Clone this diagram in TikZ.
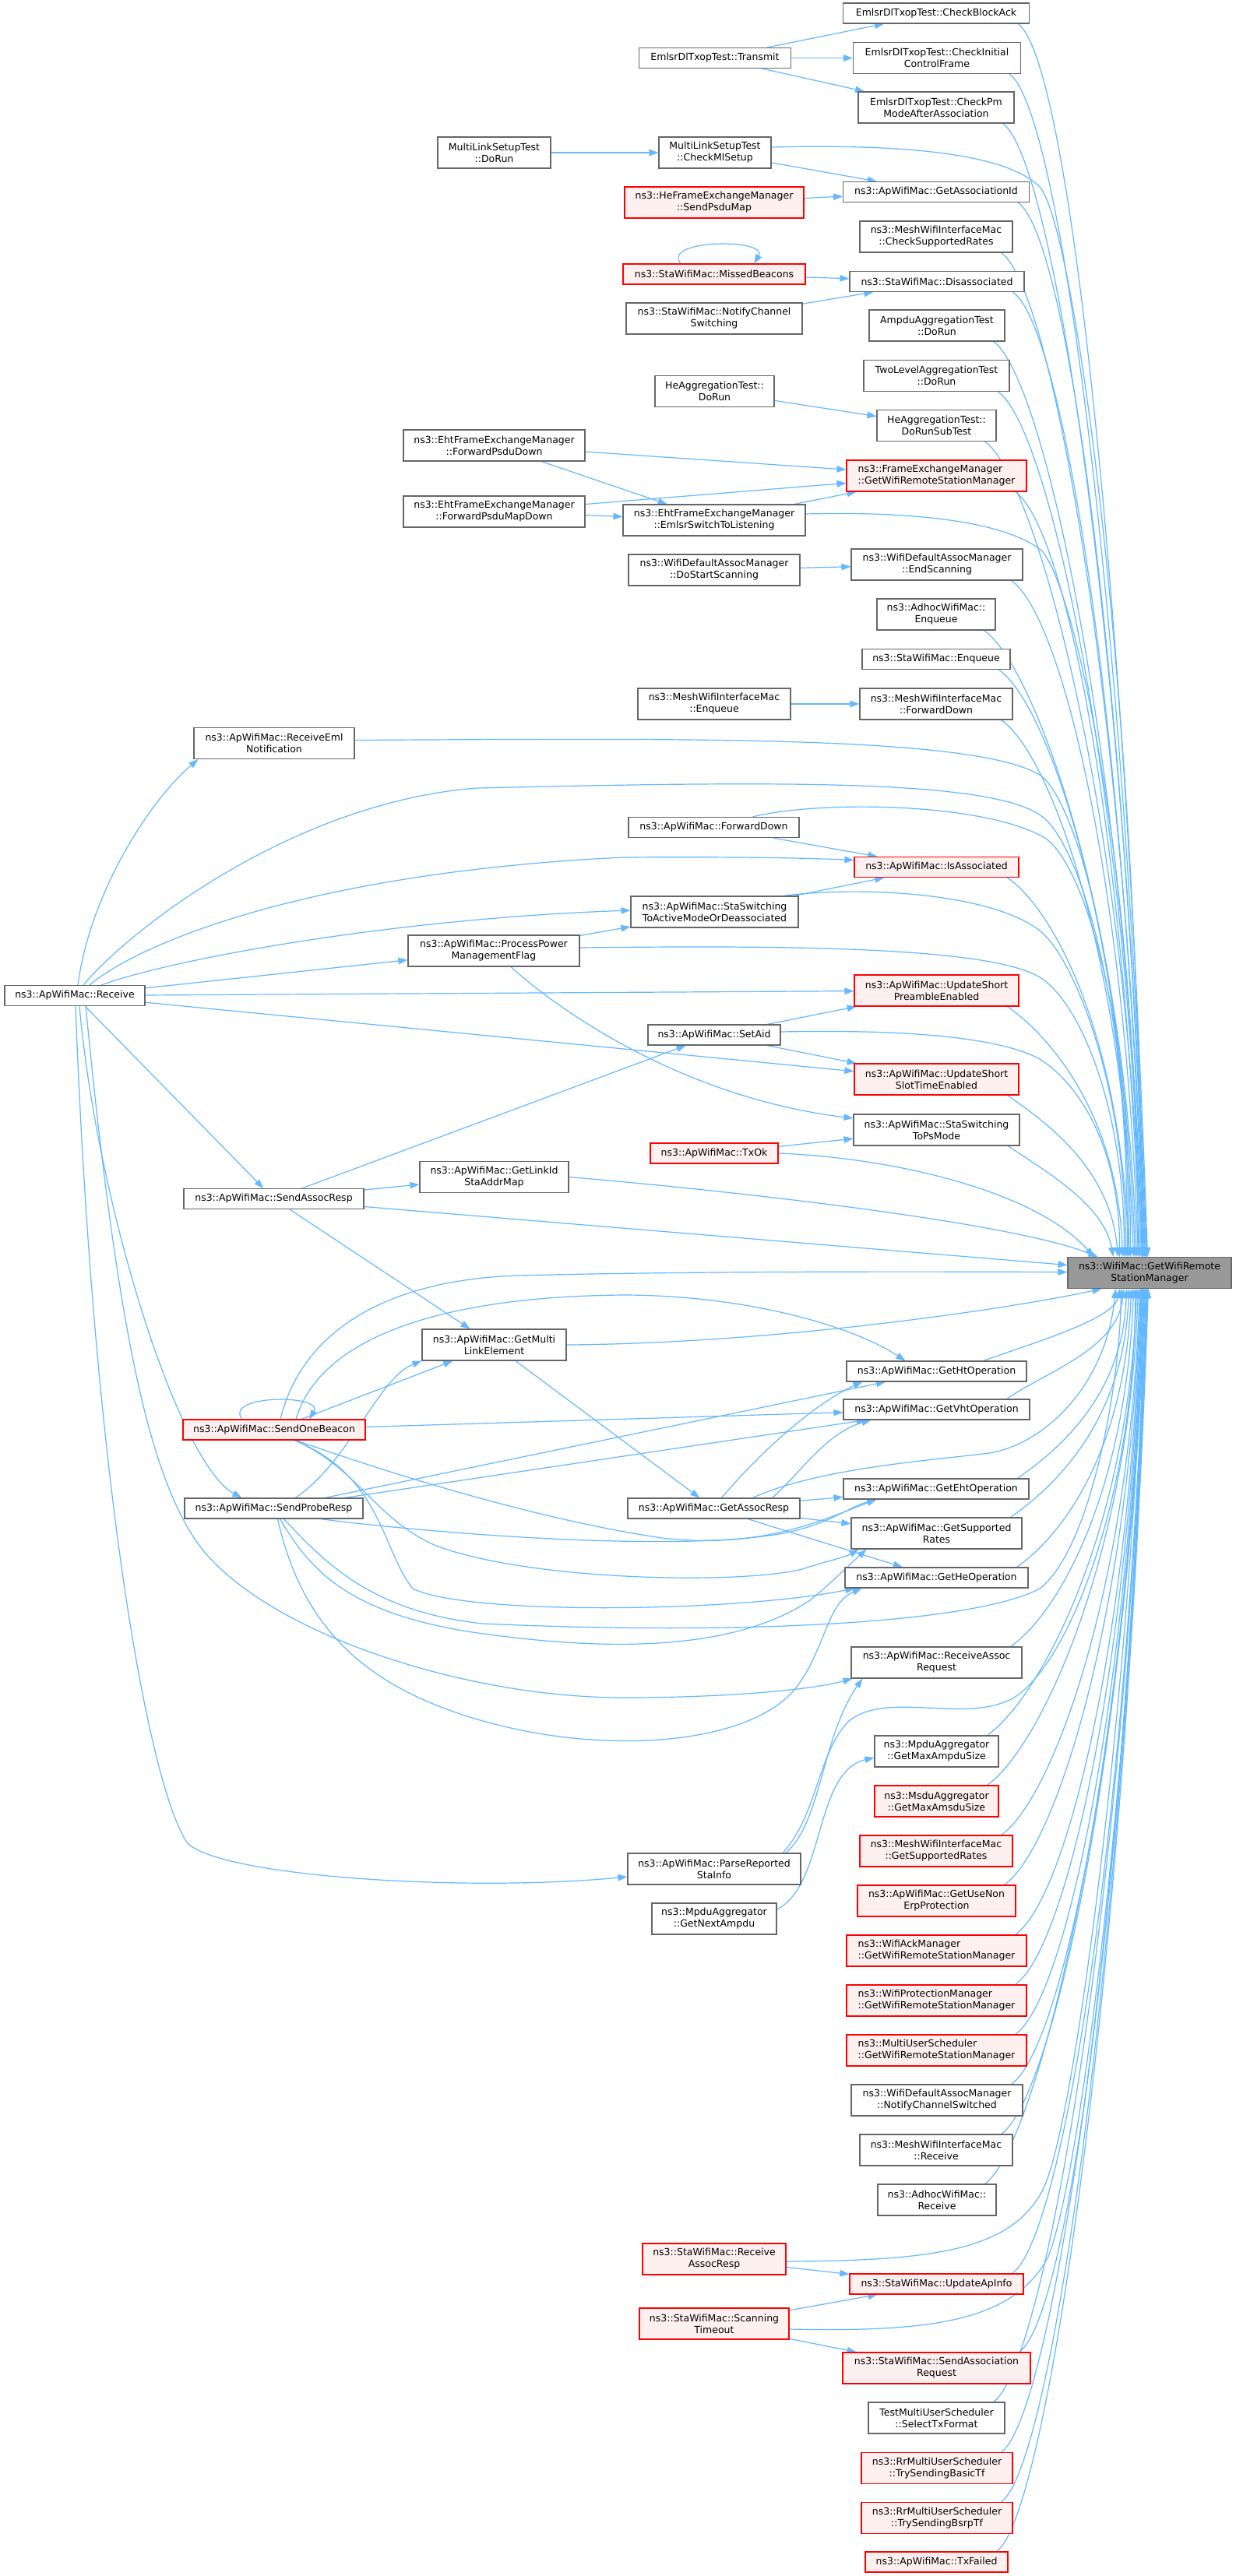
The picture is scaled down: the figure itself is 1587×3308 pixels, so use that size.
\documentclass[tikz,border=0pt]{standalone}
\usepackage{fontspec}
\newfontfamily\dv{DejaVu Sans}
\usetikzlibrary{arrows.meta}
\pgfdeclarelayer{bg}
\pgfdeclarelayer{edges}
\pgfsetlayers{bg,edges,main}
\definecolor{eb}{HTML}{63B8FF}
\definecolor{gb}{HTML}{666666}
\definecolor{rf}{HTML}{FFF0F0}
\definecolor{tf}{HTML}{999999}
\tikzset{
 nb/.style={draw=gb, fill=white, line width=1.1pt, inner sep=0pt, align=center, text=black,
   font=\dv\fontsize{12.5pt}{15pt}\selectfont, minimum height=26pt},
 n1/.style={nb},
 n2/.style={nb, minimum height=40pt},
 r1/.style={nb, draw=red, fill=rf},
 r2/.style={r1, minimum height=40pt},
 rl/.style={r2, align=left},
 ed/.style={draw=eb, line width=1.2pt, -{Triangle[length=12pt,width=8.5pt]}},
}
\begin{document}
\begin{tikzpicture}[x=1pt,y=1pt]
\useasboundingbox (0,0) rectangle (1587,-3308);
\begin{pgfonlayer}{bg}
\fill[white] (0,0) rectangle (1587,-3308);
\end{pgfonlayer}

\node[n1,minimum width=239pt] (cba) at (1202,-17) {EmlsrDlTxopTest::CheckBlockAck};
\node[n1,minimum width=195pt] (tx) at (918,-74.5) {EmlsrDlTxopTest::Transmit};
\node[n2,minimum width=215pt] (cicf) at (1203,-74.5) {EmlsrDlTxopTest::CheckInitial\\ControlFrame};
\node[n2,minimum width=200pt] (cpm) at (1202,-138) {EmlsrDlTxopTest::CheckPm\\ModeAfterAssociation};
\node[n2,minimum width=145pt] (mldr) at (634.5,-196) {MultiLinkSetupTest\\::DoRun};
\node[n2,minimum width=144pt] (cmls) at (918,-196) {MultiLinkSetupTest\\::CheckMlSetup};
\node[n1,minimum width=239pt] (gaid) at (1202,-246.5) {ns3::ApWifiMac::GetAssociationId};
\node[r2,minimum width=230pt] (spm) at (917,-260) {ns3::HeFrameExchangeManager\\::SendPsduMap};
\node[n2,minimum width=196pt] (csr) at (1202,-304) {ns3::MeshWifiInterfaceMac\\::CheckSupportedRates};
\node[r1,minimum width=234pt] (mb) at (917,-352) {ns3::StaWifiMac::MissedBeacons};
\node[n1,minimum width=224pt] (dis) at (1203,-361.5) {ns3::StaWifiMac::Disassociated};
\node[n2,minimum width=226pt] (ncs) at (917,-409) {ns3::StaWifiMac::NotifyChannel\\Switching};
\node[n2,minimum width=174pt] (ampdu) at (1203,-418) {AmpduAggregationTest\\::DoRun};
\node[n2,minimum width=187pt] (twol) at (1202.5,-482.5) {TwoLevelAggregationTest\\::DoRun};
\node[n2,minimum width=153pt] (hedr) at (917.5,-502.5) {HeAggregationTest::\\DoRun};
\node[n2,minimum width=153pt] (hest) at (1202.5,-546.5) {HeAggregationTest::\\DoRunSubTest};
\node[n2,minimum width=233pt] (fpd) at (634.5,-572) {ns3::EhtFrameExchangeManager\\::ForwardPsduDown};
\node[rl,minimum width=231pt] (fem) at (1202.5,-611) {ns3::FrameExchangeManager\\::GetWifiRemoteStationManager};
\node[n2,minimum width=233pt] (fpmd) at (634.5,-657) {ns3::EhtFrameExchangeManager\\::ForwardPsduMapDown};
\node[n2,minimum width=234pt] (emlsr) at (917,-668) {ns3::EhtFrameExchangeManager\\::EmlsrSwitchToListening};
\node[n2,minimum width=220pt] (dss) at (917,-732) {ns3::WifiDefaultAssocManager\\::DoStartScanning};
\node[n2,minimum width=220pt] (es) at (1203,-725) {ns3::WifiDefaultAssocManager\\::EndScanning};
\node[n2,minimum width=152pt] (adenq) at (1202,-789) {ns3::AdhocWifiMac::\\Enqueue};
\node[n1,minimum width=190pt] (staenq) at (1202,-846.5) {ns3::StaWifiMac::Enqueue};
\node[n2,minimum width=196pt] (menq) at (917,-904) {ns3::MeshWifiInterfaceMac\\::Enqueue};
\node[n2,minimum width=196pt] (mfd) at (1202,-904) {ns3::MeshWifiInterfaceMac\\::ForwardDown};
\node[n2,minimum width=206pt] (reml) at (352,-954.5) {ns3::ApWifiMac::ReceiveEml\\Notification};
\node[n1,minimum width=219pt] (apfd) at (916.5,-1062.5) {ns3::ApWifiMac::ForwardDown};
\node[r1,minimum width=211pt] (isa) at (1202.5,-1113.5) {ns3::ApWifiMac::IsAssociated};
\node[n2,minimum width=215pt] (ssam) at (917.5,-1171) {ns3::ApWifiMac::StaSwitching\\ToActiveModeOrDeassociated};
\node[n2,minimum width=220pt] (ppm) at (634,-1221) {ns3::ApWifiMac::ProcessPower\\ManagementFlag};
\node[r2,minimum width=211pt] (usp) at (1202.5,-1272) {ns3::ApWifiMac::UpdateShort\\PreambleEnabled};
\node[n1,minimum width=180pt] (rcv) at (96,-1278.5) {ns3::ApWifiMac::Receive};
\node[n1,minimum width=170pt] (said) at (917,-1329) {ns3::ApWifiMac::SetAid};
\node[r2,minimum width=211pt] (usst) at (1202.5,-1386) {ns3::ApWifiMac::UpdateShort\\SlotTimeEnabled};
\node[n2,minimum width=213pt] (sps) at (1202.5,-1451) {ns3::ApWifiMac::StaSwitching\\ToPsMode};
\node[r1,minimum width=164pt] (txok) at (917,-1481) {ns3::ApWifiMac::TxOk};
\node[n2,minimum width=191pt] (glsm) at (634.5,-1511.5) {ns3::ApWifiMac::GetLinkId\\StaAddrMap};
\node[n1,minimum width=231pt] (sar) at (351.5,-1539.5) {ns3::ApWifiMac::SendAssocResp};
\node[n2,minimum width=210pt,fill=tf] (tgt) at (1476,-1634.5) {ns3::WifiMac::GetWifiRemote\\StationManager};
\node[n2,minimum width=185pt] (gmle) at (634.5,-1727) {ns3::ApWifiMac::GetMulti\\LinkElement};
\node[n1,minimum width=231pt] (ght) at (1202.5,-1761) {ns3::ApWifiMac::GetHtOperation};
\node[n1,minimum width=239pt] (gvht) at (1202.5,-1810) {ns3::ApWifiMac::GetVhtOperation};
\node[r1,minimum width=234pt] (sob) at (352,-1836) {ns3::ApWifiMac::SendOneBeacon};
\node[n1,minimum width=238pt] (geht) at (1202,-1912) {ns3::ApWifiMac::GetEhtOperation};
\node[n1,minimum width=221pt] (gar) at (916.5,-1937) {ns3::ApWifiMac::GetAssocResp};
\node[n1,minimum width=229pt] (spr) at (351.5,-1937) {ns3::ApWifiMac::SendProbeResp};
\node[n2,minimum width=219pt] (gsr) at (1202.5,-1969) {ns3::ApWifiMac::GetSupported\\Rates};
\node[n1,minimum width=235pt] (ghe) at (1202.5,-2026) {ns3::ApWifiMac::GetHeOperation};
\node[n2,minimum width=219pt] (rar) at (1202.5,-2135) {ns3::ApWifiMac::ReceiveAssoc\\Request};
\node[n2,minimum width=159pt] (gmas) at (1202.5,-2249) {ns3::MpduAggregator\\::GetMaxAmpduSize};
\node[r2,minimum width=159pt] (gmms) at (1202.5,-2313) {ns3::MsduAggregator\\::GetMaxAmsduSize};
\node[r2,minimum width=196pt] (mgsr) at (1202,-2377) {ns3::MeshWifiInterfaceMac\\::GetSupportedRates};
\node[n2,minimum width=222pt] (prs) at (917,-2400) {ns3::ApWifiMac::ParseReported\\StaInfo};
\node[r2,minimum width=203pt] (gune) at (1202.5,-2441) {ns3::ApWifiMac::GetUseNon\\ErpProtection};
\node[n2,minimum width=160pt] (gna) at (917,-2464) {ns3::MpduAggregator\\::GetNextAmpdu};
\node[rl,minimum width=231pt] (wack) at (1202.5,-2505) {ns3::WifiAckManager\\::GetWifiRemoteStationManager};
\node[rl,minimum width=231pt] (wprot) at (1202.5,-2569) {ns3::WifiProtectionManager\\::GetWifiRemoteStationManager};
\node[rl,minimum width=231pt] (mus) at (1202.5,-2633) {ns3::MultiUserScheduler\\::GetWifiRemoteStationManager};
\node[n2,minimum width=220pt] (ncsd) at (1203,-2697) {ns3::WifiDefaultAssocManager\\::NotifyChannelSwitched};
\node[n2,minimum width=196pt] (mrcv) at (1202,-2761) {ns3::MeshWifiInterfaceMac\\::Receive};
\node[n2,minimum width=152pt] (adrcv) at (1203,-2825) {ns3::AdhocWifiMac::\\Receive};
\node[r2,minimum width=184pt] (rasr) at (917,-2901) {ns3::StaWifiMac::Receive\\AssocResp};
\node[r1,minimum width=223pt] (uai) at (1202.5,-2933) {ns3::StaWifiMac::UpdateApInfo};
\node[r2,minimum width=192pt] (sto) at (917,-2984) {ns3::StaWifiMac::Scanning\\Timeout};
\node[r2,minimum width=241pt] (sareq) at (1202.5,-3041) {ns3::StaWifiMac::SendAssociation\\Request};
\node[n2,minimum width=175pt] (tmus) at (1202.5,-3105) {TestMultiUserScheduler\\::SelectTxFormat};
\node[r2,minimum width=194pt] (tbtf) at (1203,-3169.5) {ns3::RrMultiUserScheduler\\::TrySendingBasicTf};
\node[r2,minimum width=194pt] (tbsr) at (1203,-3233.5) {ns3::RrMultiUserScheduler\\::TrySendingBsrpTf};
\node[r1,minimum width=183pt] (txf) at (1202.5,-3290) {ns3::ApWifiMac::TxFailed};

\begin{pgfonlayer}{edges}
% straight edges
\draw[ed] (tx) -- (cba);
\draw[ed] (tx) -- (cicf);
\draw[ed] (tx) -- (cpm);
\draw[ed] (mldr) -- (cmls);
\draw[ed] (cmls) -- (gaid);
\draw[ed] (spm) -- (gaid);
\draw[ed] (mb) -- (dis);
\draw[ed] (ncs) -- (dis);
\draw[ed] (hedr) -- (hest);
\draw[ed] (fpd) -- (fem);
\draw[ed] (fpd) -- (emlsr);
\draw[ed] (fpmd) -- (fem);
\draw[ed] (fpmd) -- (emlsr);
\draw[ed] (emlsr) -- (fem);
\draw[ed] (dss) -- (es);
\draw[ed] (menq) -- (mfd);
\draw[ed] (apfd) -- (isa);
\draw[ed] (ssam) -- (isa);
\draw[ed] (rcv) -- (ppm);
\draw[ed] (rcv) -- (usp);
\draw[ed] (rcv) -- (usst);
\draw[ed] (ppm) -- (ssam);
\draw[ed] (said) -- (usp);
\draw[ed] (said) -- (usst);
\draw[ed] (sar) -- (said);
\draw[ed] (txok) -- (sps);
\draw[ed] (sar) -- (glsm);
\draw[ed] (rcv) -- (sar);
\draw[ed] (sar) -- (gmle);
\draw[ed] (gmle) -- (gar);
\draw[ed] (sob) -- (gmle);
\draw[ed] (sob) -- (gvht);
\draw[ed] (spr) -- (ght);
\draw[ed] (spr) -- (gvht);
\draw[ed] (gar) -- (geht);
\draw[ed] (gar) -- (gsr);
\draw[ed] (gar) -- (ghe);
\draw[ed] (rasr) -- (uai);
\draw[ed] (sto) -- (uai);
\draw[ed] (sto) -- (sareq);
% self loops
\draw[ed] ([xshift=-43pt]mb.north) .. controls +(-25,32) and +(20,32) .. ([xshift=51pt]mb.north);
\draw[ed] ([xshift=-41pt]sob.north) .. controls +(-25,32) and +(20,32) .. ([xshift=45pt]sob.north);
% Receive curves
\draw[ed] ([xshift=4pt]rcv.north) .. controls (115,-1150) and (190,-1030) .. ([xshift=6pt]reml.south west);
\draw[ed] ([xshift=11pt]rcv.north) .. controls (170,-1190) and (380,-1030) .. (612,-1012) .. controls (1000,-1003) and (1280,-1000) .. (1340,-1050) .. controls (1390,-1092) and (1450,-1300) .. ([xshift=79pt]tgt.north west);
\draw[ed] ([xshift=19pt]rcv.north) .. controls (180,-1210) and (400,-1120) .. (800,-1101) .. controls (950,-1100) and (1040,-1102) .. ([yshift=9pt]isa.west);
\draw[ed] ([xshift=34pt]rcv.north) .. controls (220,-1232) and (500,-1180) .. ([yshift=2pt]ssam.west);
\draw[ed] ([xshift=6pt]rcv.south) .. controls (125,-1550) and (230,-1880) .. ([xshift=74pt]spr.north west);
\draw[ed] ([xshift=14pt]rcv.south) .. controls (150,-1700) and (190,-1900) .. (260,-1990) .. controls (350,-2100) and (600,-2180) .. (800,-2180) .. controls (950,-2180) and (1050,-2168) .. ([xshift=2pt]rar.south west);
\draw[ed] ([xshift=1pt]rcv.south) .. controls (120,-1900) and (190,-2290) .. (240,-2366) .. controls (280,-2410) and (600,-2430) .. ([yshift=-10pt]prs.west);
% left nodes to target (from above)
\draw[ed] ([yshift=4pt]reml.east) .. controls (900,-948) and (1250,-945) .. (1335,-995) .. controls (1380,-1025) and (1448,-1250) .. ([xshift=77pt]tgt.north west);
\draw[ed] ([yshift=7pt]cmls.east) .. controls (1150,-185) and (1290,-195) .. (1335,-240) .. controls (1380,-290) and (1462,-900) .. ([xshift=96pt]tgt.north west);
\draw[ed] ([yshift=8pt]emlsr.east) .. controls (1150,-657) and (1280,-665) .. (1335,-705) .. controls (1375,-735) and (1460,-1100) .. ([xshift=91pt]tgt.north west);
\draw[ed] ([xshift=50pt]apfd.north) .. controls (1050,-1028) and (1260,-1030) .. (1340,-1075) .. controls (1390,-1105) and (1452,-1300) .. ([xshift=81pt]tgt.north west);
\draw[ed] ([xshift=88pt]ssam.north) .. controls (1100,-1138) and (1270,-1145) .. (1335,-1195) .. controls (1380,-1230) and (1446,-1400) .. ([xshift=75pt]tgt.north west);
\draw[ed] ([yshift=4pt]ppm.east) .. controls (1000,-1214) and (1270,-1215) .. (1335,-1255) .. controls (1385,-1285) and (1444,-1420) .. ([xshift=73pt]tgt.north west);
\draw[ed] ([xshift=22pt]ppm.south) .. controls (720,-1300) and (880,-1410) .. ([yshift=15pt]sps.west);
\draw[ed] ([yshift=4pt]said.east) .. controls (1150,-1322) and (1280,-1330) .. (1335,-1360) .. controls (1390,-1395) and (1438,-1480) .. ([xshift=67pt]tgt.north west);
\draw[ed] (txok.east) .. controls (1150,-1487) and (1330,-1530) .. ([xshift=34pt]tgt.north west);
\draw[ed] (glsm.east) .. controls (950,-1530) and (1300,-1570) .. ([xshift=39pt]tgt.north west);
\draw[ed] ([yshift=-10pt]sar.east) -- ([yshift=10pt]tgt.west);
% SendOneBeacon
\draw[ed] ([xshift=8pt]sob.north) .. controls (385,-1720) and (480,-1645) .. (663,-1638) .. controls (900,-1632) and (1200,-1633) .. ([yshift=1pt]tgt.west);
\draw[ed] ([xshift=28pt]sob.north) .. controls (410,-1720) and (560,-1665) .. (800,-1663) .. controls (950,-1663) and (1090,-1700) .. ([xshift=-40pt]ght.north);
\draw[ed] ([xshift=28pt]sob.south) .. controls (480,-1885) and (680,-1950) .. (850,-1975) .. controls (980,-1990) and (1060,-1950) .. ([xshift=43pt]geht.south west);
\draw[ed] ([xshift=26pt]sob.south) .. controls (460,-1885) and (480,-1950) .. (560,-1985) .. controls (680,-2030) and (950,-2035) .. (1030,-2015) .. controls (1060,-2005) and (1085,-2000) .. ([xshift=10pt]gsr.south west);
\draw[ed] ([xshift=26pt]sob.south) .. controls (490,-1895) and (490,-1990) .. (530,-2040) .. controls (600,-2075) and (950,-2070) .. ([xshift=13pt]ghe.south west);
% SendProbeResp
\draw[ed] ([xshift=28pt]spr.north) .. controls (450,-1875) and (485,-1770) .. (gmle.south west);
\draw[ed] ([xshift=60pt]spr.south) .. controls (520,-1965) and (850,-1995) .. (1000,-1970) .. controls (1060,-1960) and (1090,-1935) .. ([xshift=43pt]geht.south west);
\draw[ed] ([xshift=8pt]spr.south) .. controls (400,-2020) and (450,-2070) .. (600,-2095) .. controls (800,-2125) and (950,-2115) .. (1040,-2055) .. controls (1065,-2035) and (1090,-2010) .. ([xshift=20pt]gsr.south west);
\draw[ed] ([xshift=13pt]spr.south) .. controls (420,-2010) and (480,-2070) .. (620,-2085) .. controls (950,-2100) and (1250,-2085) .. (1335,-2040) .. controls (1400,-1990) and (1438,-1780) .. ([xshift=69pt]tgt.south west);
\draw[ed] ([xshift=5pt]spr.south) .. controls (390,-2100) and (480,-2170) .. (620,-2210) .. controls (780,-2255) and (960,-2240) .. (1020,-2170) .. controls (1060,-2120) and (1060,-2060) .. ([xshift=22pt]ghe.south west);
% GetAssocResp
\draw[ed] ([xshift=10pt]gar.north) .. controls (980,-1860) and (1050,-1800) .. ([xshift=21pt]ght.south west);
\draw[ed] ([xshift=75pt]gar.north) .. controls (1025,-1895) and (1060,-1840) .. ([xshift=36pt]gvht.south west);
\draw[ed] ([xshift=50pt]gar.north) .. controls (1050,-1885) and (1200,-1875) .. (1270,-1866) .. controls (1340,-1855) and (1420,-1780) .. ([xshift=62pt]tgt.south west);
\draw[ed] (gmle.east) .. controls (1000,-1725) and (1300,-1680) .. ([xshift=44pt]tgt.south west);
% ParseReportedStaInfo, GetNextAmpdu
\draw[ed] ([xshift=92pt]prs.north) .. controls (1055,-2340) and (1055,-2230) .. ([xshift=15pt]rar.south west);
\draw[ed] ([xshift=88pt]prs.north) .. controls (1050,-2330) and (1050,-2250) .. (1090,-2210) .. controls (1140,-2170) and (1240,-2215) .. (1302,-2180) .. controls (1380,-2130) and (1458,-1900) .. ([xshift=87pt]tgt.south west);
\draw[ed] ([yshift=12pt]gna.east) .. controls (1060,-2420) and (1045,-2275) .. ([yshift=-8pt]gmas.west);
% StaWifiMac bottom
\draw[ed] ([yshift=-3pt]rasr.east) .. controls (1200,-2903) and (1300,-2890) .. (1340,-2810) .. controls (1390,-2700) and (1466,-2000) .. ([xshift=95pt]tgt.south west);
\draw[ed] ([yshift=-7pt]sto.east) .. controls (1200,-2995) and (1300,-2980) .. (1345,-2900) .. controls (1395,-2780) and (1468,-2100) .. ([xshift=97pt]tgt.south west);
% right column above target
\draw[ed] ([xshift=-15pt]cba.south east) .. controls +(65.5,-45.9) and +(-30.4,869.1) .. ([xshift=103pt]tgt.north west);
\draw[ed] ([xshift=-15pt]cicf.south east) .. controls +(65.5,-45.9) and +(-29.2,834.5) .. ([xshift=102pt]tgt.north west);
\draw[ed] ([xshift=-15pt]cpm.south east) .. controls +(65.5,-45.9) and +(-28,799.5) .. ([xshift=101pt]tgt.north west);
\draw[ed] ([xshift=-15pt]gaid.south east) .. controls +(65.5,-45.9) and +(-26,744.5) .. ([xshift=100pt]tgt.north west);
\draw[ed] ([xshift=-15pt]csr.south east) .. controls +(65.5,-45.9) and +(-24.8,709.6) .. ([xshift=99pt]tgt.north west);
\draw[ed] ([xshift=-15pt]dis.south east) .. controls +(65.5,-45.9) and +(-23.7,679.6) .. ([xshift=98pt]tgt.north west);
\draw[ed] ([xshift=-15pt]ampdu.south east) .. controls +(65.5,-45.9) and +(-22.5,644.6) .. ([xshift=97pt]tgt.north west);
\draw[ed] ([xshift=-15pt]twol.south east) .. controls +(65.5,-45.9) and +(-21.3,609.6) .. ([xshift=96pt]tgt.north west);
\draw[ed] ([xshift=-15pt]hest.south east) .. controls +(65.5,-45.9) and +(-20.1,574.6) .. ([xshift=95pt]tgt.north west);
\draw[ed] ([xshift=-15pt]fem.south east) .. controls +(65.5,-45.9) and +(-18.8,539.7) .. ([xshift=93pt]tgt.north west);
\draw[ed] ([xshift=-15pt]es.south east) .. controls +(65.5,-45.9) and +(-16.8,479.7) .. ([xshift=91pt]tgt.north west);
\draw[ed] ([xshift=-15pt]adenq.south east) .. controls +(65.5,-45.9) and +(-15.4,439.7) .. ([xshift=89pt]tgt.north west);
\draw[ed] ([xshift=-15pt]staenq.south east) .. controls +(65.5,-45.9) and +(-14.5,414.7) .. ([xshift=87pt]tgt.north west);
\draw[ed] ([xshift=-15pt]mfd.south east) .. controls +(65.5,-45.9) and +(-13.3,379.8) .. ([xshift=85pt]tgt.north west);
\draw[ed] ([xshift=-15pt]isa.south east) .. controls +(65.5,-45.9) and +(-9.4,269.8) .. ([xshift=79pt]tgt.north west);
\draw[ed] ([xshift=-15pt]usp.south east) .. controls +(57.3,-40.2) and +(-6.3,179.9) .. ([xshift=71pt]tgt.north west);
\draw[ed] ([xshift=-15pt]usst.south east) .. controls +(49.1,-34.4) and +(-10,114.6) .. ([xshift=65pt]tgt.north west);
\draw[ed] ([xshift=-15pt]sps.south east) .. controls +(41,-28.7) and +(-12.2,68.9) .. ([xshift=59pt]tgt.north west);
% right column below target
\draw[ed] ([xshift=60pt]ght.north) .. controls +(56.4,20.5) and +(-6.9,-39.4) .. ([xshift=67pt]tgt.south west);
\draw[ed] ([xshift=-30pt]gvht.north east) .. controls +(49.1,34.4) and +(-6.8,-77.7) .. ([xshift=72pt]tgt.south west);
\draw[ed] ([xshift=-15pt]geht.north east) .. controls +(57.3,40.2) and +(-4.7,-133.9) .. ([xshift=76pt]tgt.south west);
\draw[ed] ([xshift=-15pt]gsr.north east) .. controls +(65.5,45.9) and +(-5.7,-161.9) .. ([xshift=79pt]tgt.south west);
\draw[ed] ([xshift=-15pt]ghe.north east) .. controls +(65.5,45.9) and +(-6.9,-196.9) .. ([xshift=82pt]tgt.south west);
\draw[ed] ([xshift=-15pt]rar.north east) .. controls +(65.5,45.9) and +(-8.8,-252.8) .. ([xshift=85pt]tgt.south west);
\draw[ed] ([xshift=-15pt]gmas.north east) .. controls +(65.5,45.9) and +(-11,-315.8) .. ([xshift=89pt]tgt.south west);
\draw[ed] ([xshift=-15pt]gmms.north east) .. controls +(65.5,45.9) and +(-12.2,-349.8) .. ([xshift=91pt]tgt.south west);
\draw[ed] ([xshift=-15pt]mgsr.north east) .. controls +(65.5,45.9) and +(-13.5,-385.8) .. ([xshift=93pt]tgt.south west);
\draw[ed] ([xshift=-15pt]gune.north east) .. controls +(65.5,45.9) and +(-14.7,-420.7) .. ([xshift=94pt]tgt.south west);
\draw[ed] ([xshift=-15pt]wack.north east) .. controls +(65.5,45.9) and +(-15.9,-455.7) .. ([xshift=95pt]tgt.south west);
\draw[ed] ([xshift=-15pt]wprot.north east) .. controls +(65.5,45.9) and +(-17.1,-489.7) .. ([xshift=96pt]tgt.south west);
\draw[ed] ([xshift=-15pt]mus.north east) .. controls +(65.5,45.9) and +(-18.4,-526.7) .. ([xshift=97pt]tgt.south west);
\draw[ed] ([xshift=-15pt]ncsd.north east) .. controls +(65.5,45.9) and +(-19.6,-561.7) .. ([xshift=98pt]tgt.south west);
\draw[ed] ([xshift=-15pt]mrcv.north east) .. controls +(65.5,45.9) and +(-20.8,-596.6) .. ([xshift=99pt]tgt.south west);
\draw[ed] ([xshift=-15pt]adrcv.north east) .. controls +(65.5,45.9) and +(-22.1,-631.6) .. ([xshift=100pt]tgt.south west);
\draw[ed] ([xshift=-15pt]uai.north east) .. controls +(65.5,45.9) and +(-24.3,-694.6) .. ([xshift=101pt]tgt.south west);
\draw[ed] ([xshift=-15pt]sareq.north east) .. controls +(65.5,45.9) and +(-26.2,-750.5) .. ([xshift=102pt]tgt.south west);
\draw[ed] ([xshift=-15pt]tmus.north east) .. controls +(65.5,45.9) and +(-27.4,-785.5) .. ([xshift=102pt]tgt.south west);
\draw[ed] ([xshift=-15pt]tbtf.north east) .. controls +(65.5,45.9) and +(-28.7,-821.5) .. ([xshift=103pt]tgt.south west);
\draw[ed] ([xshift=-15pt]tbsr.north east) .. controls +(65.5,45.9) and +(-29.9,-856.5) .. ([xshift=103pt]tgt.south west);
\draw[ed] ([xshift=-15pt]txf.north east) .. controls +(65.5,45.9) and +(-31.1,-891.5) .. ([xshift=104pt]tgt.south west);
\end{pgfonlayer}
\end{tikzpicture}
\end{document}
